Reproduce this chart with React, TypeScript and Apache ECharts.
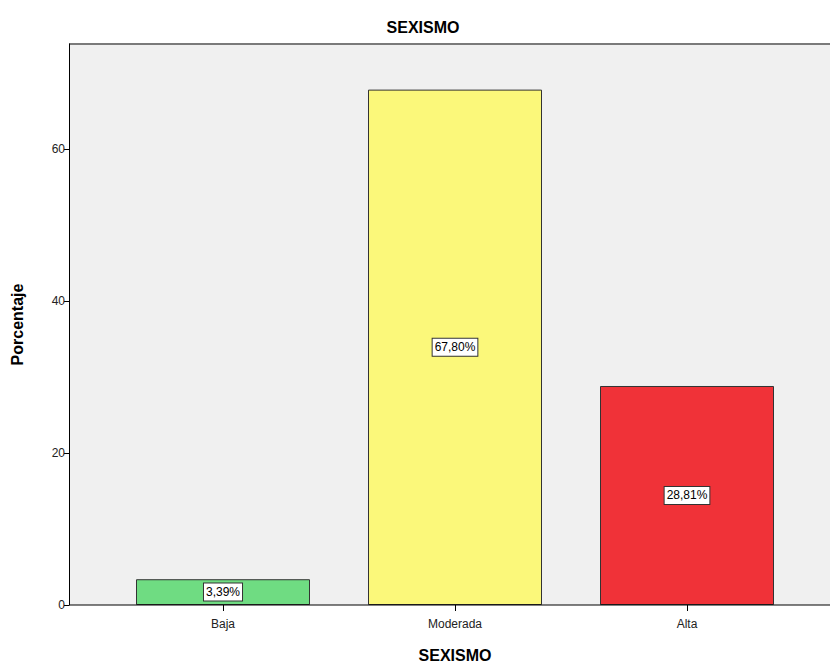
import React, { useEffect, useRef } from "react";
import * as echarts from "echarts";

const categories = ["Baja", "Moderada", "Alta"];
const percentages = [3.39, 67.8, 28.81];
const labels = ["3,39%", "67,80%", "28,81%"];
const barColors = ["#6FDC82", "#FBF87A", "#F03238"];
const yTicks = [0, 20, 40, 60];

const FONT = "'Liberation Sans', Arial, sans-serif";

export default function App() {
  const ref = useRef<HTMLDivElement>(null);
  useEffect(() => {
    if (!ref.current) return;
    const chart = echarts.init(ref.current, undefined, { renderer: "svg" });
    const option: any = {
      animation: false,
      backgroundColor: "#ffffff",
      textStyle: { fontFamily: FONT },
      title: {
        text: "SEXISMO",
        left: 418,
        top: 14,
        textAlign: "center",
        textStyle: { fontFamily: FONT, fontSize: 16, fontWeight: "bold", color: "#000" },
      },
      graphic: [
        {
          type: "rect",
          z: -10,
          silent: true,
          shape: { x: 69, y: 44, width: 780, height: 561 },
          style: { fill: "#F0F0F0" },
        },
        {
          type: "line",
          z: -5,
          silent: true,
          shape: { x1: 69, y1: 44, x2: 830, y2: 44 },
          style: { stroke: "#7A7A7A", lineWidth: 2 },
        },
        {
          type: "line",
          z: 50,
          silent: true,
          shape: { x1: 69, y1: 605, x2: 830, y2: 605 },
          style: { stroke: "#000", lineWidth: 1 },
        },
      ],
      grid: {
        left: 107,
        right: 27,
        top: 44,
        bottom: 60,
        containLabel: false,
        outerBoundsMode: "none",
      },
      xAxis: {
        type: "category",
        data: categories,
        name: "SEXISMO",
        nameLocation: "middle",
        nameGap: 42,
        nameTextStyle: { fontFamily: FONT, fontSize: 16, fontWeight: "bold", color: "#000" },
        axisLine: { show: false },
        axisTick: { show: true, alignWithLabel: true, length: 6, lineStyle: { color: "#000" } },
        axisLabel: { fontFamily: FONT, fontSize: 12, color: "#222", margin: 13 },
      },
      yAxis: {
        type: "value",
        min: 0,
        max: 73.8,
        interval: 20,
        offset: 38,
        name: "Porcentaje",
        nameLocation: "middle",
        nameGap: 44,
        nameTextStyle: { fontFamily: FONT, fontSize: 16, fontWeight: "bold", color: "#000" },
        axisLine: { show: true, lineStyle: { color: "#000", width: 1 } },
        axisTick: { show: true, length: 5, customValues: yTicks, lineStyle: { color: "#000" } },
        axisLabel: {
          fontFamily: FONT,
          fontSize: 12,
          color: "#222",
          margin: 4,
          customValues: yTicks,
        },
        splitLine: { show: false },
      },
      series: [
        {
          type: "bar",
          barWidth: 174,
          data: percentages.map((v, i) => ({
            value: v,
            itemStyle: { color: barColors[i], borderColor: "#333", borderWidth: 1 },
          })),
          label: {
            show: true,
            position: "inside",
            formatter: (p: any) => labels[p.dataIndex],
            fontFamily: FONT,
            fontSize: 12,
            color: "#000",
            backgroundColor: "#ffffff",
            borderColor: "#333",
            borderWidth: 1,
            padding: [3, 2, 2, 2],
          },
        },
      ],
    };
    chart.setOption(option);
    return () => chart.dispose();
  }, []);
  return (
    <div
      ref={ref}
      style={{ position: "absolute", left: 0, top: 0, width: 830, height: 665 }}
    />
  );
}
